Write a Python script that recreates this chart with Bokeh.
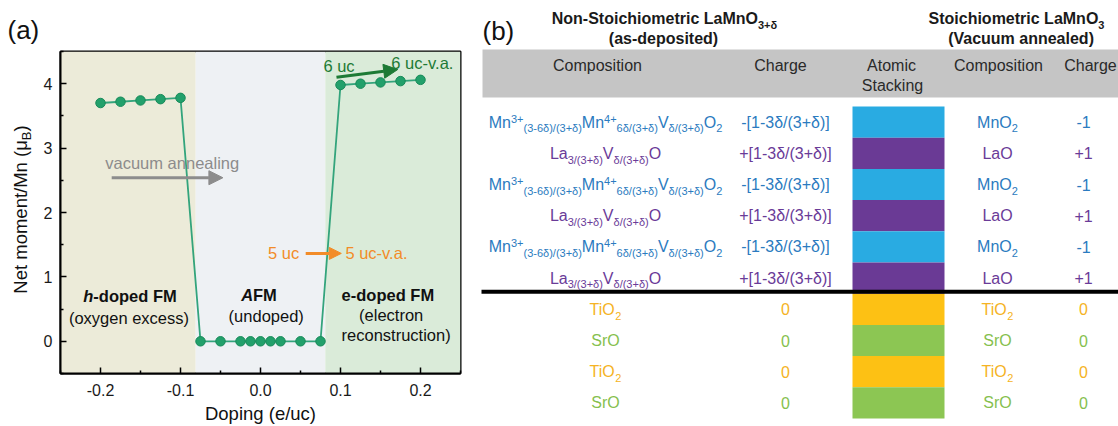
import math
from bokeh.plotting import figure
from bokeh.models import Range1d, FixedTicker, Arrow, NormalHead, ColumnDataSource
from bokeh.layouts import row
from bokeh.embed import file_html
from bokeh.resources import INLINE
from bokeh.core.properties import value

FONT = "Liberation Sans"

# ---------------- panel (a) data ----------------
doping = [-0.2, -0.175, -0.15, -0.125, -0.1,
          -0.075, -0.05, -0.025, -0.0125, 0.0, 0.0125, 0.025, 0.05, 0.075,
          0.1, 0.125, 0.15, 0.175, 0.2]
moment = [3.70, 3.72, 3.74, 3.76, 3.78,
          0.0, 0.0, 0.0, 0.0, 0.0, 0.0, 0.0, 0.0, 0.0,
          3.98, 4.00, 4.02, 4.04, 4.06]
region_left = [-0.25, -0.081, 0.081]
region_right = [-0.081, 0.081, 0.25]
region_colors = ["#ECEBD9", "#EEF1F4", "#DAEBD9"]
x_ticks = [-0.2, -0.1, 0.0, 0.1, 0.2]
x_tick_labels = ["-0.2", "-0.1", "0.0", "0.1", "0.2"]
x_minor = [-0.25, -0.15, -0.05, 0.05, 0.15, 0.25]
y_ticks = [0, 1, 2, 3, 4]
y_tick_labels = ["0", "1", "2", "3", "4"]
y_minor = [-0.5, 0.5, 1.5, 2.5, 3.5, 4.5]

# ---------------- panel (b) data ----------------
layers = ["MnO2", "LaO", "MnO2", "LaO", "MnO2", "LaO", "TiO2", "SrO", "TiO2", "SrO"]
layer_bar_color = {"MnO2": "#29ABE2", "LaO": "#6A3A95", "TiO2": "#FDC114", "SrO": "#8CC653"}
layer_text_color = {"MnO2": "#2B7BC0", "LaO": "#6A3B98", "TiO2": "#F5B324", "SrO": "#86BF4E"}
nonstoich_comp = {
    "MnO2": [("Mn", "n"), ("3+", "sup"), ("(3-6δ)/(3+δ)", "sub"), ("Mn", "n"), ("4+", "sup"),
             ("6δ/(3+δ)", "sub"), ("V", "n"), ("δ/(3+δ)", "sub"), ("O", "n"), ("2", "sub")],
    "LaO": [("La", "n"), ("3/(3+δ)", "sub"), ("V", "n"), ("δ/(3+δ)", "sub"), ("O", "n")],
    "TiO2": [("TiO", "n"), ("2", "sub")],
    "SrO": [("SrO", "n")],
}
nonstoich_charge = {"MnO2": "-[1-3δ/(3+δ)]", "LaO": "+[1-3δ/(3+δ)]", "TiO2": "0", "SrO": "0"}
stoich_comp = {
    "MnO2": [("MnO", "n"), ("2", "sub")],
    "LaO": [("LaO", "n")],
    "TiO2": [("TiO", "n"), ("2", "sub")],
    "SrO": [("SrO", "n")],
}
stoich_charge = {"MnO2": "-1", "LaO": "+1", "TiO2": "0", "SrO": "0"}

# ---------------- text metrics (Arial / Liberation Sans) ----------------
REG = {' ': 278, '(': 333, ')': 333, '+': 584, '-': 333, '.': 278, '/': 278, '[': 278, ']': 278,
       'δ': 556, 'μ': 576}
BOLD = {' ': 278, '(': 333, ')': 333, '+': 584, '-': 333, '.': 278, '/': 278, '[': 333, ']': 333,
        'δ': 611, 'μ': 611}
for d in "0123456789":
    REG[d] = 556
    BOLD[d] = 556
REG.update(dict(zip("ABCDEFGHIJKLMNOPQRSTUVWXYZ",
                    [667, 667, 722, 722, 667, 611, 778, 722, 278, 500, 667, 556, 833, 722, 778, 667, 778, 722, 667, 611, 722, 667, 944, 667, 667, 611])))
REG.update(dict(zip("abcdefghijklmnopqrstuvwxyz",
                    [556, 556, 500, 556, 556, 278, 556, 556, 222, 222, 500, 222, 833, 556, 556, 556, 556, 333, 500, 278, 556, 500, 722, 500, 500, 500])))
BOLD.update(dict(zip("ABCDEFGHIJKLMNOPQRSTUVWXYZ",
                     [722, 722, 722, 722, 667, 611, 778, 722, 278, 556, 722, 611, 833, 722, 778, 667, 778, 722, 667, 611, 722, 667, 944, 667, 667, 611])))
BOLD.update(dict(zip("abcdefghijklmnopqrstuvwxyz",
                     [556, 611, 556, 611, 556, 333, 611, 611, 278, 278, 556, 278, 889, 611, 611, 611, 611, 389, 556, 333, 611, 556, 778, 556, 556, 500])))

MID = 0.35  # distance (in em) from the 'middle' anchor down to the alphabetic baseline


def tw(s, size, bold=False):
    t = BOLD if bold else REG
    return sum(t.get(c, 556) for c in s) * size / 1000.0


class Batch:
    def __init__(self):
        self.g = {}

    def add(self, key, x, y, t):
        xs, ys, ts = self.g.setdefault(key, ([], [], []))
        xs.append(x); ys.append(y); ts.append(t)

    def render(self, fig, angle=0.0):
        for (style, size, color), (xs, ys, ts) in self.g.items():
            fig.text(x=xs, y=ys, text=ts, text_font=value(FONT), text_font_style=style,
                     text_font_size=f"{size}px", text_color=color, text_align="left",
                     text_baseline="middle", angle=angle)


def bare(fig):
    fig.grid.visible = False
    fig.outline_line_color = None
    fig.frame_align = False
    return fig


# ================= left strip: y-axis label and panel tag =================
pl = bare(figure(width=40, height=426, x_range=Range1d(0, 40), y_range=Range1d(0, 426),
                 output_backend="svg", toolbar_location=None, x_axis_type=None, y_axis_type=None,
                 min_border_left=0, min_border_right=0, min_border_top=0, min_border_bottom=0))
LBL = 18.5
SUBL = 13
main_t, sub_t, end_t = "Net moment/Mn (μ", "B", ")"
w_main, w_sub, w_end = tw(main_t, LBL), tw(sub_t, SUBL), tw(end_t, LBL)
start_py = 209 + (w_main + w_sub + w_end) / 2          # reference pixel row of label start
lab_x = 20.0
lab_base = lab_x + MID * LBL
sub_x = lab_base + 4.0 - MID * SUBL
bl = Batch()
bl.add(("normal", LBL, "#111111"), lab_x, 426 - start_py, main_t)
bl.add(("normal", SUBL, "#111111"), sub_x, 426 - (start_py - w_main), sub_t)
bl.add(("normal", LBL, "#111111"), lab_x, 426 - (start_py - w_main - w_sub), end_t)
bl.render(pl, angle=math.pi / 2)
pl.text(x=[7], y=[426 - 29], text=["(a)"], text_font=value(FONT), text_font_size="26px",
        text_color="#111111", text_align="left", text_baseline="middle")

# ================= panel (a) =================
XS = 403 / 0.5   # px per data unit (x)

pa = figure(width=430, height=426, x_range=Range1d(-0.25, 0.25), y_range=Range1d(-0.5, 4.5),
            output_backend="svg", toolbar_location=None,
            min_border_left=17, min_border_right=10, min_border_top=51, min_border_bottom=52)
pa.frame_align = False
pa.grid.visible = False
pa.outline_line_color = "black"
pa.outline_line_width = 2
pa.background_fill_color = "white"

pa.quad(left=region_left, right=region_right, bottom=-0.5, top=4.5,
        fill_color=region_colors, line_color=None)

for ax, ticks, labels, minor in ((pa.xaxis[0], x_ticks, x_tick_labels, x_minor),
                                 (pa.yaxis[0], y_ticks, y_tick_labels, y_minor)):
    ax.ticker = FixedTicker(ticks=ticks, minor_ticks=minor)
    ax.major_label_overrides = {t: l for t, l in zip(ticks, labels)}
    ax.major_tick_in = 6
    ax.major_tick_out = 0
    ax.minor_tick_in = 3
    ax.minor_tick_out = 0
    ax.major_tick_line_width = 1.5
    ax.minor_tick_line_width = 1.5
    ax.axis_line_width = 2
    ax.major_label_text_font = FONT
    ax.major_label_text_font_size = "16px"
    ax.major_label_text_color = "#1a1a1a"
pa.xaxis.major_label_standoff = 10
pa.yaxis.major_label_standoff = 8
pa.xaxis.axis_label = "Doping (e/uc)"
pa.xaxis.axis_label_text_font = FONT
pa.xaxis.axis_label_text_font_size = f"{LBL}px"
pa.xaxis.axis_label_text_font_style = "normal"
pa.xaxis.axis_label_text_color = "#111111"
pa.xaxis.axis_label_standoff = 4

pa.line(doping, moment, line_color="#33A47C", line_width=1.8)
pa.scatter(doping, moment, size=9.5, fill_color="#22A06B", line_color="#178A59", line_width=1)

ba = Batch()


def rich_a(segs, cx, cy, size, color):
    total = sum(tw(t, size, "bold" in st) for t, st in segs)
    x = cx - total / 2 / XS
    for t, st in segs:
        ba.add((st, size, color), x, cy, t)
        x += tw(t, size, "bold" in st) / XS


rich_a([("vacuum annealing", "normal")], -0.111, 2.77, 16.5, "#8C8C8C")
rich_a([("6 uc", "normal")], 0.098, 4.28, 16.5, "#1D7A35")
rich_a([("6 uc-v.a.", "normal")], 0.2028, 4.325, 16.5, "#1D7A35")
rich_a([("5 uc", "normal")], 0.0288, 1.368, 16.5, "#F28C28")
rich_a([("5 uc-v.a.", "normal")], 0.1454, 1.368, 16.5, "#F28C28")
rich_a([("h", "bold italic"), ("-doped FM", "bold")], -0.1635, 0.697, 16.5, "#111111")
rich_a([("(oxygen excess)", "normal")], -0.165, 0.362, 16.5, "#111111")
rich_a([("A", "bold italic"), ("FM", "bold")], -0.002, 0.72, 16.5, "#111111")
rich_a([("(undoped)", "normal")], 0.0068, 0.387, 16.5, "#111111")
rich_a([("e-doped FM", "bold")], 0.1588, 0.72, 16.5, "#111111")
rich_a([("(electron", "normal")], 0.163, 0.413, 16.5, "#111111")
rich_a([("reconstruction)", "normal")], 0.169, 0.10, 16.5, "#111111")
ba.render(pa)

for (x0, y0, x1, y1, c, hs) in ((-0.186, 2.54, -0.047, 2.54, "#8C8C8C", 14),
                                 (0.095, 4.10, 0.1715, 4.22, "#1D7A35", 14),
                                 (0.0565, 1.365, 0.101, 1.365, "#F28C28", 12)):
    pa.add_layout(Arrow(end=NormalHead(size=hs, fill_color=c, line_color=c),
                        x_start=x0, y_start=y0, x_end=x1, y_end=y1,
                        line_color=c, line_width=3))

# ================= panel (b) =================
pb = bare(figure(width=648, height=426, x_range=Range1d(470, 1118), y_range=Range1d(426, 0),
                 output_backend="svg", toolbar_location=None, x_axis_type=None, y_axis_type=None,
                 min_border_left=0, min_border_right=0, min_border_top=0, min_border_bottom=0))

ROW_TOP, ROW_H = 106.0, 31.2
COL_COMP1, COL_CH1, COL_COMP2, COL_CH2 = 605, 785, 997, 1083
BAR_L, BAR_R = 852, 944

# header band
pb.quad(left=[482], right=[1118], top=[49], bottom=[97], fill_color="#C5C5C5", line_color=None)

# stacking bars
idx = list(range(len(layers)))
src = ColumnDataSource(dict(
    top=[ROW_TOP + i * ROW_H for i in idx],
    bottom=[ROW_TOP + (i + 1) * ROW_H for i in idx],
    color=[layer_bar_color[l] for l in layers]))
pb.quad(left=BAR_L, right=BAR_R, top="top", bottom="bottom", fill_color="color",
        line_color=None, source=src)

# separator line
sep_y = ROW_TOP + 6 * ROW_H - 2
pb.segment(x0=[481], x1=[1118], y0=[sep_y], y1=[sep_y], line_color="black", line_width=4)

bb = Batch()


def rich_b(segs, cx, cy, size, color, bold=False):
    style = "bold" if bold else "normal"
    small = round(size * 0.69, 1)
    base = cy + MID * size
    sizes = {"n": size, "sub": small, "sup": small}
    mids = {"n": cy,
            "sub": base + size * 0.28 - MID * small,
            "sup": base - size * 0.33 - MID * small}
    total = sum(tw(t, sizes[k], bold) for t, k in segs)
    x = cx - total / 2
    for t, k in segs:
        bb.add((style, sizes[k], color), x, mids[k], t)
        x += tw(t, sizes[k], bold)


# titles
rich_b([("Non-Stoichiometric LaMnO", "n"), ("3+δ", "sub")], 664, 18, 16, "#1A1A1A", True)
rich_b([("(as-deposited)", "n")], 663, 38, 16, "#1A1A1A", True)
rich_b([("Stoichiometric LaMnO", "n"), ("3", "sub")], 1016, 18, 16, "#1A1A1A", True)
rich_b([("(Vacuum annealed)", "n")], 1021, 38, 16, "#1A1A1A", True)
# column headers
hdr = "#2A2A2A"
rich_b([("Composition", "n")], 597, 65, 16, hdr)
rich_b([("Charge", "n")], 780, 65, 16, hdr)
rich_b([("Atomic", "n")], 891, 65, 16, hdr)
rich_b([("Stacking", "n")], 892, 84.5, 16, hdr)
rich_b([("Composition", "n")], 998, 65, 16, hdr)
rich_b([("Charge", "n")], 1090, 65, 16, hdr)
# rows
for i, l in enumerate(layers):
    cy = ROW_TOP + (i + 0.5) * ROW_H
    c = layer_text_color[l]
    rich_b(nonstoich_comp[l], COL_COMP1, cy, 16, c)
    rich_b([(nonstoich_charge[l], "n")], COL_CH1, cy, 16, c)
    rich_b(stoich_comp[l], COL_COMP2, cy, 16, c)
    rich_b([(stoich_charge[l], "n")], COL_CH2, cy, 16, c)
bb.render(pb)

pb.text(x=[482], y=[30], text=["(b)"], text_font=value(FONT), text_font_size="26px",
        text_color="#111111", text_align="left", text_baseline="middle")

layout = row(pl, pa, pb)
open("out.html", "w").write(file_html(layout, INLINE))
